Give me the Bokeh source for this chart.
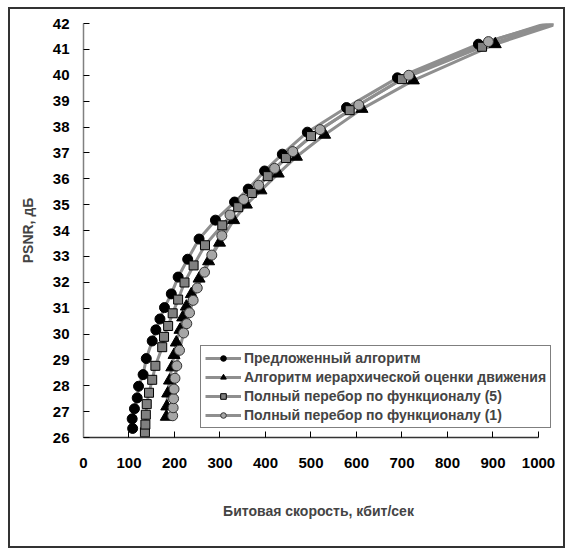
from bokeh.plotting import figure
from bokeh.models import Range1d, Legend, LegendItem, FixedTicker
from bokeh.embed import file_html
from bokeh.resources import INLINE

FONT = "Liberation Sans"

x_ticks = [0, 100, 200, 300, 400, 500, 600, 700, 800, 900, 1000]
y_ticks = list(range(26, 43))

names = [
    "Предложенный алгоритм",
    "Алгоритм иерархической оценки движения",
    "Полный перебор по функционалу (5)",
    "Полный перебор по функционалу (1)",
]

# Предложенный алгоритм
x1 = [108, 107, 112, 118, 121, 131, 138, 151, 159, 168, 178, 193, 208, 229, 254, 290, 332, 362, 398, 437, 492, 578, 690, 868]
y1 = [26.35, 26.72, 27.11, 27.53, 27.98, 28.43, 29.05, 29.73, 30.16, 30.58, 31.02, 31.55, 32.2, 32.89, 33.67, 34.4, 35.1, 35.6, 36.3, 36.95, 37.8, 38.75, 39.9, 41.2]
# Алгоритм иерархической оценки движения
x3 = [182, 183, 185, 189, 194, 199, 204, 212, 218, 226, 237, 254, 275, 299, 330, 358, 390, 428, 468, 530, 612, 725, 905]
y3 = [26.8, 27.2, 27.7, 28.2, 28.71, 29.19, 29.67, 30.16, 30.64, 31.06, 31.54, 32.14, 32.81, 33.53, 34.4, 35.0, 35.55, 36.2, 36.85, 37.7, 38.7, 39.8, 41.2]
# Полный перебор по функционалу (5)
x2 = [135, 136, 137, 139, 144, 151, 158, 173, 177, 186, 196, 208, 222, 242, 267, 305, 340, 370, 405, 445, 500, 585, 700, 876]
y2 = [26.2, 26.5, 26.88, 27.29, 27.73, 28.23, 28.77, 29.49, 29.89, 30.31, 30.8, 31.33, 31.99, 32.65, 33.43, 34.2, 34.9, 35.45, 36.1, 36.8, 37.65, 38.65, 39.85, 41.1]
# Полный перебор по функционалу (1)
x4 = [196, 197, 198, 199, 201, 205, 211, 220, 227, 233, 241, 250, 266, 282, 304, 322, 352, 385, 420, 460, 520, 605, 715, 890]
y4 = [26.84, 27.15, 27.5, 27.87, 28.29, 28.77, 29.37, 30.04, 30.4, 30.82, 31.3, 31.78, 32.39, 33.05, 33.8, 34.6, 35.2, 35.75, 36.4, 37.05, 37.9, 38.85, 40.0, 41.3]

# end points of the trend curves (beyond the last measured point)
end_x = [1035, 1035, 1035, 1035]
end_y = [42.05, 41.95, 42.0, 42.1]

# canvas sits inside a 2px frame drawn with CSS, offset (8, 7) in the page;
# its bottom edge falls just below the window, as in the reference
p = figure(width=557, height=541, output_backend="svg", toolbar_location=None,
           x_range=Range1d(0, 1033), y_range=Range1d(26, 42),
           min_border_left=73, min_border_right=14, min_border_top=14, min_border_bottom=113)
p.styles = {"border": "2px solid #333333", "margin-left": "8px", "margin-top": "7px"}
p.outline_line_color = None
p.grid.grid_line_color = None
p.background_fill_color = "white"
p.border_fill_color = "white"

LINE = "#8f8f8f"
series = [
    (x1, y1, "circle", "black", "black", 10),
    (x3, y3, "triangle", "black", "black", 12),
    (x2, y2, "square", "#808080", "black", 9),
    (x4, y4, "circle", "#a6a6a6", "#333333", 10),
]
line_rs = []
for i, (xs, ys, m, fc, lc, sz) in enumerate(series):
    lr = p.line(xs + [end_x[i]], ys + [end_y[i]], line_color=LINE, line_width=3)
    line_rs.append(lr)
mark_rs = []
for i, (xs, ys, m, fc, lc, sz) in enumerate(series):
    sr = p.scatter(xs, ys, marker=m, size=sz, fill_color=fc, line_color=lc, line_width=1)
    mark_rs.append(sr)

xa = p.xaxis[0]
xa.ticker = FixedTicker(ticks=x_ticks)
xa.bounds = (0, 1000)
xa.axis_line_color = "#333333"
xa.axis_line_width = 1.5
xa.major_tick_line_color = "black"
xa.major_tick_in = 6
xa.major_tick_out = 0
xa.minor_tick_line_color = None
xa.major_label_standoff = 20
xa.major_label_text_font = FONT
xa.major_label_text_font_style = "bold"
xa.major_label_text_font_size = "15px"
xa.major_label_text_color = "black"
xa.axis_label = "Битовая скорость, кбит/сек"
xa.axis_label_text_font = FONT
xa.axis_label_text_font_style = "bold"
xa.axis_label_text_font_size = "14px"
xa.axis_label_standoff = 32

ya = p.yaxis[0]
ya.ticker = FixedTicker(ticks=y_ticks)
ya.axis_line_color = "#808080"
ya.axis_line_width = 1.5
ya.major_tick_line_color = "black"
ya.major_tick_in = 6
ya.major_tick_out = 0
ya.minor_tick_line_color = None
ya.major_label_standoff = 14
ya.major_label_text_font = FONT
ya.major_label_text_font_style = "bold"
ya.major_label_text_font_size = "15px"
ya.major_label_text_color = "black"
ya.axis_label = "PSNR, дБ"
ya.axis_label_text_font = FONT
ya.axis_label_text_font_style = "bold"
ya.axis_label_text_font_size = "14px"
ya.axis_label_standoff = 14

items = [LegendItem(label=names[i], renderers=[line_rs[i], mark_rs[i]]) for i in range(4)]
leg = Legend(items=items, location=(117, 9))
leg.label_text_font = FONT
leg.label_text_font_style = "bold"
leg.label_text_font_size = "14px"
leg.border_line_color = "black"
leg.border_line_width = 1
leg.background_fill_alpha = 1
leg.glyph_width = 36
leg.glyph_height = 14
leg.label_height = 14
leg.spacing = 3
leg.padding = 4
leg.margin = 0
leg.label_standoff = 3
p.add_layout(leg, "center")

open("out.html", "w").write(file_html(p, INLINE))
